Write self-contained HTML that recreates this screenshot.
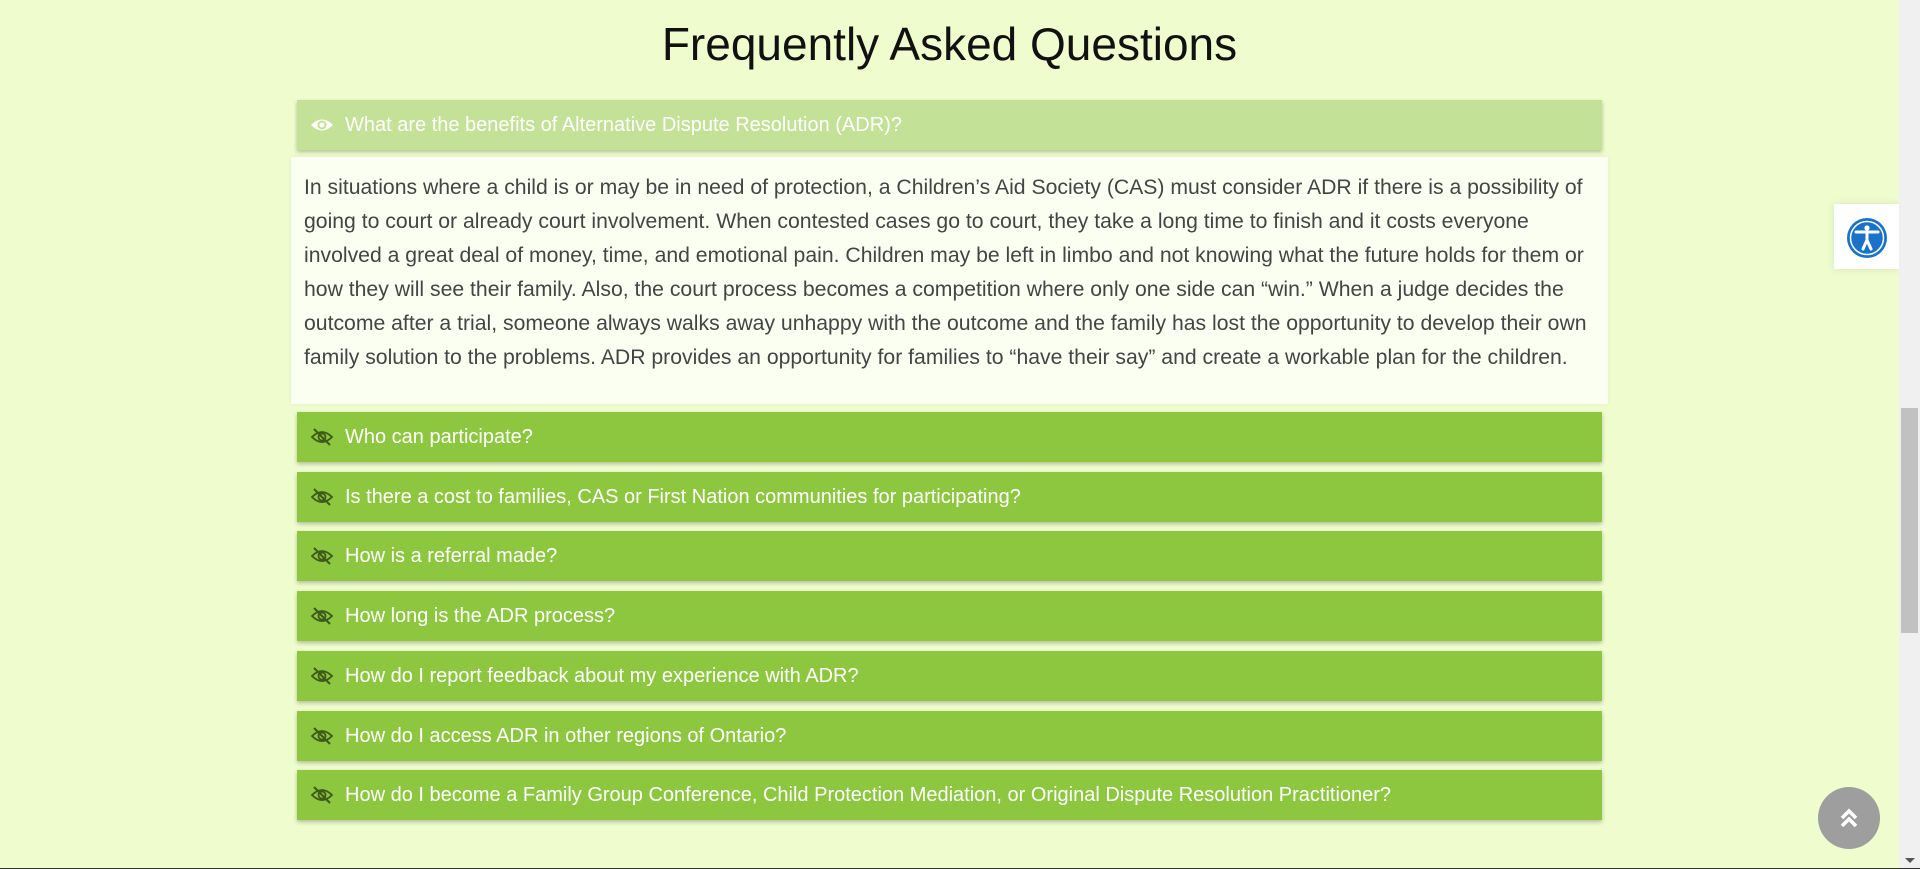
<!DOCTYPE html>
<html><head><meta charset="utf-8"><style>
*{box-sizing:border-box;margin:0;padding:0}
body{width:1920px;height:869px;overflow:hidden;background:#effcce;font-family:"Liberation Sans",Arial,sans-serif;position:relative}
h1{position:absolute;left:0;width:1899px;top:17px;text-align:center;font-weight:400;font-size:46px;color:#111}
.hdr{position:absolute;left:297px;width:1305px;height:50px;background:#8dc63f;color:#fff;font-size:20px;line-height:50px;padding-left:48px;box-shadow:0 2px 4px rgba(0,0,0,.25)}
.hdr.open{background:#c3e197}
.ic{position:absolute;left:13px;top:15px;width:24px;height:20px}
.body{position:absolute;left:291px;top:157px;width:1317px;height:247px;background:#fbfff2;color:#444;font-size:21.2px;line-height:34px;padding:14px 10px 0 13px;box-shadow:0 0 4px rgba(0,0,0,.06)}
.sb{position:absolute;right:0;top:0;width:21px;height:869px;background:#f0f0f0}
</style></head><body>
<h1>Frequently Asked Questions</h1>

<div class="hdr open" style="top:100px">
<svg class="ic" viewBox="0 0 24 20"><path d="M1 10 Q12 -1 23 10 Q12 21 1 10Z" fill="#fff"/><circle cx="12" cy="10" r="4.5" fill="#c3e197"/><circle cx="12" cy="10" r="2.5" fill="#fff"/></svg>
What are the benefits of Alternative Dispute Resolution (ADR)?</div>

<div class="body">In situations where a child is or may be in need of protection, a Children’s Aid Society (CAS) must consider ADR if there is a possibility of going to court or already court involvement. When contested cases go to court, they take a long time to finish and it costs everyone involved a great deal of money, time, and emotional pain. Children may be left in limbo and not knowing what the future holds for them or how they will see their family. Also, the court process becomes a competition where only one side can “win.” When a judge decides the outcome after a trial, someone always walks away unhappy with the outcome and the family has lost the opportunity to develop their own family solution to the problems. ADR provides an opportunity for families to “have their say” and create a workable plan for the children.</div>

<div id="list"></div>

<div style="position:absolute;left:1834px;top:204px;width:65px;height:65px;background:#fff;box-shadow:0 0 8px rgba(0,0,0,.1)">
<svg width="65" height="65" viewBox="0 0 65 65"><circle cx="33" cy="34" r="20" fill="#1a73c8"/><circle cx="33" cy="34" r="16.5" fill="none" stroke="#fff" stroke-width="1.5"/><circle cx="33" cy="24" r="2.6" fill="#fff"/><path d="M22 28 L44 28 M33 28 L33 37 M33 36 L29 45 M33 36 L37 45" stroke="#fff" stroke-width="3" fill="none" stroke-linecap="round"/></svg></div>

<div style="position:absolute;left:1818px;top:787px;width:62px;height:62px;border-radius:50%;background:#9e9e9e">
<svg width="62" height="62" viewBox="0 0 62 62"><path d="M24 31 L31 24 L38 31 M24 39 L31 32 L38 39" stroke="#fff" stroke-width="3.5" fill="none"/></svg></div>

<div class="sb"><div style="position:absolute;left:2px;top:408px;width:17px;height:225px;background:#c1c1c1"></div>
<div style="position:absolute;left:6px;bottom:6px;border-left:5px solid transparent;border-right:5px solid transparent;border-top:5px solid #555"></div></div>
<div style="position:absolute;left:0;bottom:0;width:1920px;height:1px;background:#333"></div>

<script>
const questions=["Who can participate?","Is there a cost to families, CAS or First Nation communities for participating?","How is a referral made?","How long is the ADR process?","How do I report feedback about my experience with ADR?","How do I access ADR in other regions of Ontario?","How do I become a Family Group Conference, Child Protection Mediation, or Original Dispute Resolution Practitioner?"];
const names=["faq-question-participate","faq-question-cost","faq-question-referral","faq-question-length","faq-question-feedback","faq-question-other-regions","faq-question-become-practitioner"];
const list=document.getElementById('list');
questions.forEach((q,i)=>{
 const d=document.createElement('div');
 d.className='hdr';
 d.style.top=(412+i*59.7)+'px';
 
 
 d.innerHTML='<svg class="ic" viewBox="0 0 24 20"><path d="M2 10 Q12 0 22 10 Q12 20 2 10Z" fill="none" stroke="#3d5a1a" stroke-width="1.8"/><circle cx="12" cy="10" r="3.5" fill="none" stroke="#3d5a1a" stroke-width="1.8"/><path d="M4 2 L20 18" stroke="#3d5a1a" stroke-width="2"/></svg>'+q;
 list.appendChild(d);
});
</script>
</body></html>
